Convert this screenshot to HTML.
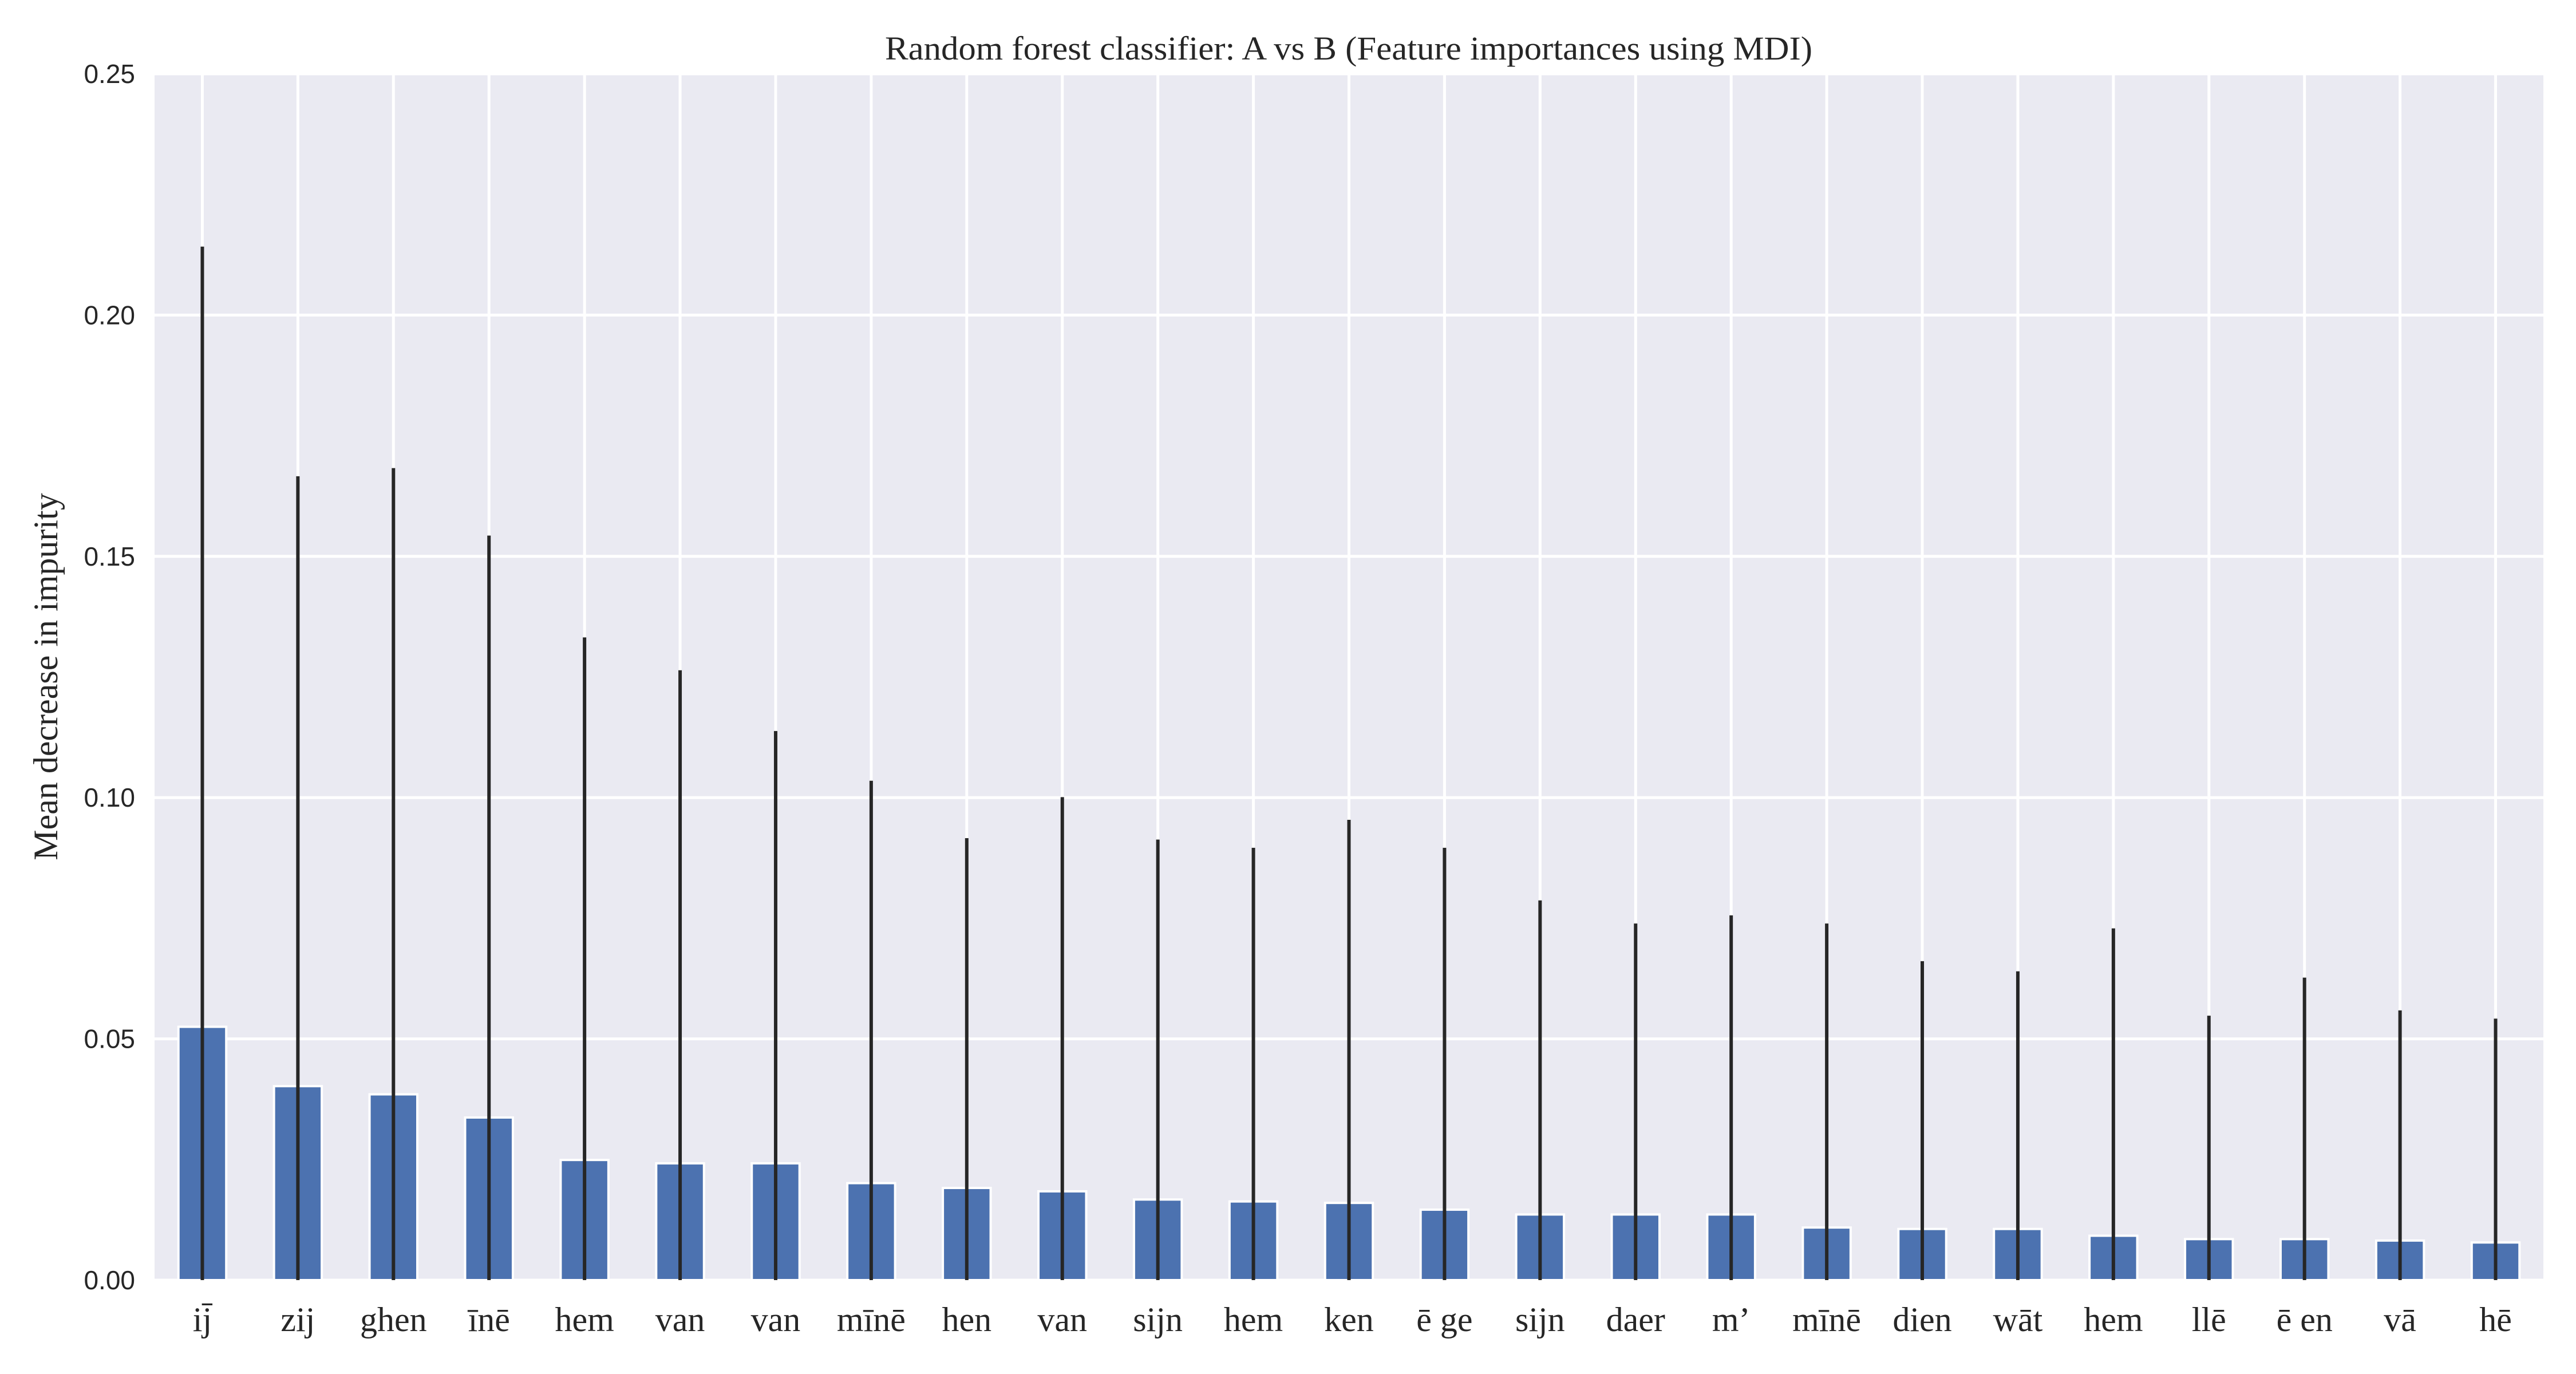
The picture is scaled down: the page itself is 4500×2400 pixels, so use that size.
<!DOCTYPE html>
<html><head><meta charset="utf-8"><style>
html,body{margin:0;padding:0;background:#fff;}
svg{display:block;}
</style></head><body>
<svg id="chart" width="4500" height="2400" xmlns="http://www.w3.org/2000/svg">
<rect width="4500" height="2400" fill="#fff"/>
<rect x="270" y="129" width="4173" height="2107" fill="#eaeaf2"/>
<g id="grid"></g>
<g id="bars"></g>
<g id="errs"></g>
<g id="yticks"></g>
<g id="xticks"></g>
<text x="2356" y="104" text-anchor="middle" font-family="'Liberation Serif', serif" font-size="58" fill="#262626" textLength="1620" lengthAdjust="spacingAndGlyphs">Random forest classifier: A vs B (Feature importances using MDI)</text>
<text transform="translate(100,1182) rotate(-90)" text-anchor="middle" font-family="'Liberation Serif', serif" font-size="60" fill="#262626">Mean decrease in impurity</text>
</svg>
<script>
const categories = ["ij\u0304","zij","ghen","\u012bn\u0113","hem","van","van","m\u012bn\u0113","hen","van","sijn","hem","ken","\u0113 ge","sijn","daer","m\u2019","m\u012bn\u0113","dien","w\u0101t","hem","ll\u0113","\u0113 en","v\u0101","h\u0113"];
const importances = [0.0525,0.0402,0.0385,0.0337,0.0249,0.0242,0.0242,0.0201,0.0191,0.0184,0.0167,0.0163,0.0160,0.0146,0.0136,0.0136,0.0136,0.0109,0.0106,0.0106,0.0092,0.0085,0.0085,0.0082,0.0078];
const errors = [0.1617,0.1264,0.1298,0.1206,0.1083,0.1022,0.0896,0.0834,0.0725,0.0817,0.0746,0.0733,0.0794,0.0750,0.0651,0.0603,0.0620,0.0630,0.0555,0.0534,0.0637,0.0463,0.0542,0.0477,0.0464];
const yTicks = [0,0.05,0.10,0.15,0.20,0.25];
const yTickLabels = ["0.00","0.05","0.10","0.15","0.20","0.25"];

const NS="http://www.w3.org/2000/svg";
const L=270,R=4443,T=129,B=2236,yMax=0.25;
const n=categories.length, step=(R-L)/n;
const xs=i=>L+step*(i+0.5);
const ys=v=>B-(v/yMax)*(B-T);
function mk(tag,attrs,parent){const e=document.createElementNS(NS,tag);for(const k in attrs)e.setAttribute(k,attrs[k]);document.getElementById(parent).appendChild(e);return e;}

yTicks.forEach((t,i)=>{
  const g=mk('line',{x1:L,x2:R,y1:ys(t),y2:ys(t),stroke:'#fff','stroke-width':5},'grid');
  
  
  const tx=mk('text',{x:236,y:ys(t)+16,'text-anchor':'end','font-family':"'Liberation Sans', sans-serif",'font-size':46,fill:'#262626'},'yticks');
  tx.textContent=yTickLabels[i];
  
  
});
categories.forEach((c,i)=>{
  const x=xs(i);
  const g=mk('line',{x1:x,x2:x,y1:T,y2:B,stroke:'#fff','stroke-width':5},'grid');
  
  
  const w=step*0.5, y=ys(importances[i]);
  const b=mk('rect',{x:x-w/2,y:y,width:w,height:B-y,fill:'#4c72b0',stroke:'#fff','stroke-width':4},'bars');
  
  
  const top=ys(importances[i]+errors[i]);
  const bot=Math.min(B,ys(importances[i]-errors[i]));
  const e=mk('line',{x1:x,x2:x,y1:top,y2:bot,stroke:'#262626','stroke-width':6},'errs');
  
  
  const t=mk('text',{x:x,y:2325,'text-anchor':'middle','font-family':"'Liberation Serif', serif",'font-size':60,fill:'#262626'},'xticks');
  t.textContent=c;
  
  
});
</script>
</body></html>
